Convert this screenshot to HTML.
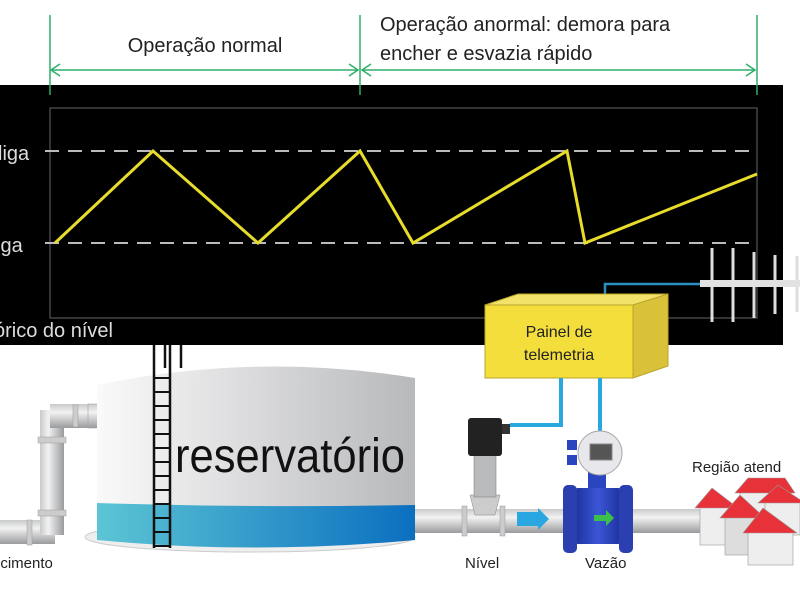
<!DOCTYPE html>
<html><head><meta charset="utf-8"><style>
html,body{margin:0;padding:0;background:#fff;}
svg{display:block;font-family:"Liberation Sans",sans-serif;}
</style></head><body>
<svg width="800" height="600" viewBox="0 0 800 600" xmlns="http://www.w3.org/2000/svg">
<defs>
<linearGradient id="tank" x1="0" x2="1"><stop offset="0" stop-color="#fafafa"/><stop offset="1" stop-color="#b8b9bc"/></linearGradient>
<linearGradient id="water" x1="0" x2="1"><stop offset="0" stop-color="#5cc5d4"/><stop offset="1" stop-color="#0b6fc0"/></linearGradient>
<linearGradient id="pipeH" x1="0" y1="0" x2="0" y2="1"><stop offset="0" stop-color="#c9cacc"/><stop offset=".35" stop-color="#f2f2f2"/><stop offset="1" stop-color="#9a9b9e"/></linearGradient>
<linearGradient id="pipeV" x1="0" x2="1"><stop offset="0" stop-color="#c9cacc"/><stop offset=".35" stop-color="#f2f2f2"/><stop offset="1" stop-color="#9a9b9e"/></linearGradient>
<linearGradient id="blue" x1="0" x2="1"><stop offset="0" stop-color="#1b2f9a"/><stop offset=".5" stop-color="#3b56d6"/><stop offset="1" stop-color="#1b2f9a"/></linearGradient>
</defs>
<text x="205" y="52" font-size="20" fill="#222" text-anchor="middle">Operação normal</text>
<text x="380" y="31" font-size="20" fill="#222">Operação anormal: demora para</text>
<text x="380" y="60" font-size="20" fill="#222">encher e esvazia rápido</text>
<rect x="0" y="85" width="783" height="260" fill="#000"/>
<g stroke="#2fae6b" stroke-width="1.5" fill="none">
<line x1="50" y1="15" x2="50" y2="95"/><line x1="360" y1="15" x2="360" y2="95"/><line x1="757" y1="15" x2="757" y2="95"/>
<line x1="50" y1="70" x2="358" y2="70"/><line x1="362" y1="70" x2="755" y2="70"/>
<polyline points="60,64 51,70 60,76"/><polyline points="349,64 358,70 349,76"/>
<polyline points="371,64 362,70 371,76"/><polyline points="746,64 755,70 746,76"/>
</g>
<rect x="50" y="108" width="707" height="210" fill="none" stroke="#555" stroke-width="1.2"/>
<text x="-2" y="160" font-size="20" fill="#ddd">liga</text>
<text x="-4" y="252" font-size="20" fill="#ddd">iga</text>
<text x="-6" y="337" font-size="20" fill="#ddd">órico do nível</text>
<g stroke="#bbb" stroke-width="2" stroke-dasharray="14,9">
<line x1="45" y1="151" x2="757" y2="151"/><line x1="45" y1="243" x2="757" y2="243"/>
</g>
<polyline points="55,243 153,151 258,243 360,151 413,243 567,151 585,243 757,174" fill="none" stroke="#e8dc2a" stroke-width="3"/>
<g stroke="#ddd" stroke-width="3">
<line x1="712" y1="248" x2="712" y2="322"/><line x1="733" y1="248" x2="733" y2="322"/><line x1="754" y1="252" x2="754" y2="318"/><line x1="775" y1="255" x2="775" y2="314"/><line x1="797" y1="256" x2="797" y2="312"/>
</g>
<rect x="700" y="280" width="100" height="7" fill="#e2e2e2"/>
<polyline points="605,305 605,284 700,284" fill="none" stroke="#2a8fc0" stroke-width="2.5"/>
<polygon points="485,305 518,294 668,294 633,305" fill="#f3e26a" stroke="#b9a52a"/>
<polygon points="633,305 668,294 668,366 633,378" fill="#d9c23a" stroke="#b9a52a"/>
<rect x="485" y="305" width="148" height="73" fill="#f4de3c" stroke="#b9a52a"/>
<text x="559" y="337" font-size="16" fill="#222" text-anchor="middle">Painel de</text>
<text x="559" y="360" font-size="16" fill="#222" text-anchor="middle">telemetria</text>
<g fill="none" stroke="#29a8e0" stroke-width="4">
<polyline points="561,378 561,425 510,425"/><polyline points="600,378 600,435"/>
</g>
<rect x="0" y="520" width="55" height="24" fill="url(#pipeH)"/>
<rect x="40" y="410" width="24" height="125" fill="url(#pipeV)"/>
<rect x="50" y="404" width="47" height="24" fill="url(#pipeH)"/>
<rect x="88" y="404" width="12" height="24" fill="url(#pipeH)" stroke="#999" stroke-width=".5"/>
<rect x="38" y="437" width="28" height="6" fill="#ccc" stroke="#999" stroke-width=".5"/>
<rect x="38" y="510" width="28" height="6" fill="#ccc" stroke="#999" stroke-width=".5"/>
<rect x="73" y="405" width="5" height="22" fill="#ccc" stroke="#999" stroke-width=".5"/>
<rect x="27" y="520" width="5" height="25" fill="#ccc" stroke="#999" stroke-width=".5"/>
<text x="-8" y="568" font-size="15" fill="#222">ecimento</text>
<ellipse cx="250" cy="537" rx="165" ry="15" fill="#eee" stroke="#ccc"/>
<path d="M97,385 Q255,352 415,378 L415,540 Q255,555 97,540 Z" fill="url(#tank)"/>
<path d="M97,503 Q255,508 415,505 L415,540 Q255,555 97,540 Z" fill="url(#water)"/>
<text x="290" y="472" font-size="48" fill="#111" text-anchor="middle" textLength="230" lengthAdjust="spacingAndGlyphs">reservatório</text>
<g stroke="#111" stroke-width="2.5" fill="none">
<line x1="154" y1="345" x2="154" y2="548"/><line x1="170" y1="345" x2="170" y2="548"/>
<line x1="165" y1="345" x2="165" y2="368"/><line x1="181" y1="345" x2="181" y2="368"/>
</g>
<g stroke="#111" stroke-width="2">
<line x1="154" y1="378" x2="170" y2="378"/><line x1="154" y1="392" x2="170" y2="392"/><line x1="154" y1="406" x2="170" y2="406"/><line x1="154" y1="420" x2="170" y2="420"/><line x1="154" y1="434" x2="170" y2="434"/><line x1="154" y1="448" x2="170" y2="448"/><line x1="154" y1="462" x2="170" y2="462"/><line x1="154" y1="476" x2="170" y2="476"/><line x1="154" y1="490" x2="170" y2="490"/><line x1="154" y1="504" x2="170" y2="504"/><line x1="154" y1="518" x2="170" y2="518"/><line x1="154" y1="532" x2="170" y2="532"/><line x1="154" y1="546" x2="170" y2="546"/>
</g>
<rect x="415" y="509" width="290" height="24" fill="url(#pipeH)"/>
<rect x="462" y="506" width="5" height="30" fill="#ccc" stroke="#999" stroke-width=".5"/>
<rect x="500" y="506" width="5" height="30" fill="#ccc" stroke="#999" stroke-width=".5"/>
<polygon points="517,512 538,512 538,508 549,519 538,530 538,526 517,526" fill="#2aa6e0"/>
<path d="M470,495 L500,495 L495,515 L475,515 Z" fill="#ccc" stroke="#888" stroke-width=".5"/>
<rect x="474" y="455" width="22" height="42" fill="#b9babc" stroke="#777" stroke-width=".5"/>
<rect x="468" y="418" width="34" height="38" rx="3" fill="#222"/>
<rect x="502" y="424" width="8" height="10" fill="#333"/>
<rect x="588" y="470" width="18" height="30" fill="#2a45c0"/>
<rect x="573" y="488" width="50" height="56" rx="5" fill="url(#blue)"/>
<rect x="563" y="485" width="14" height="68" rx="5" fill="#2b3fb0"/>
<rect x="619" y="485" width="14" height="68" rx="5" fill="#2b3fb0"/>
<polygon points="594,515 606,515 606,510 614,518 606,526 606,521 594,521" fill="#3cc04a"/>
<rect x="567" y="440" width="10" height="10" fill="#2a45c0"/><rect x="567" y="455" width="10" height="10" fill="#2a45c0"/>
<circle cx="600" cy="453" r="22" fill="#e8e8ec" stroke="#aaa"/>
<rect x="590" y="444" width="22" height="16" fill="#555" stroke="#888"/>
<text x="465" y="568" font-size="15" fill="#222">Nível</text>
<text x="585" y="568" font-size="15" fill="#222">Vazão</text>
<text x="692" y="472" font-size="15" fill="#222">Região atend</text>
<g stroke="#999" stroke-width=".6">
<rect x="700" y="505" width="30" height="40" fill="#eee"/><polygon points="695,508 712,488 738,508" fill="#e8323a"/>
<rect x="740" y="490" width="40" height="30" fill="#eee"/><polygon points="735,493 748,478 785,478 795,493" fill="#e8323a"/>
<rect x="725" y="515" width="35" height="40" fill="#ddd"/><polygon points="720,518 740,495 765,518" fill="#e8323a"/>
<rect x="765" y="500" width="35" height="35" fill="#eee"/><polygon points="758,503 778,485 805,503" fill="#e8323a"/>
<rect x="748" y="530" width="45" height="35" fill="#eee"/><polygon points="743,533 763,508 797,533" fill="#e8323a"/>
</g>
</svg>
</body></html>
